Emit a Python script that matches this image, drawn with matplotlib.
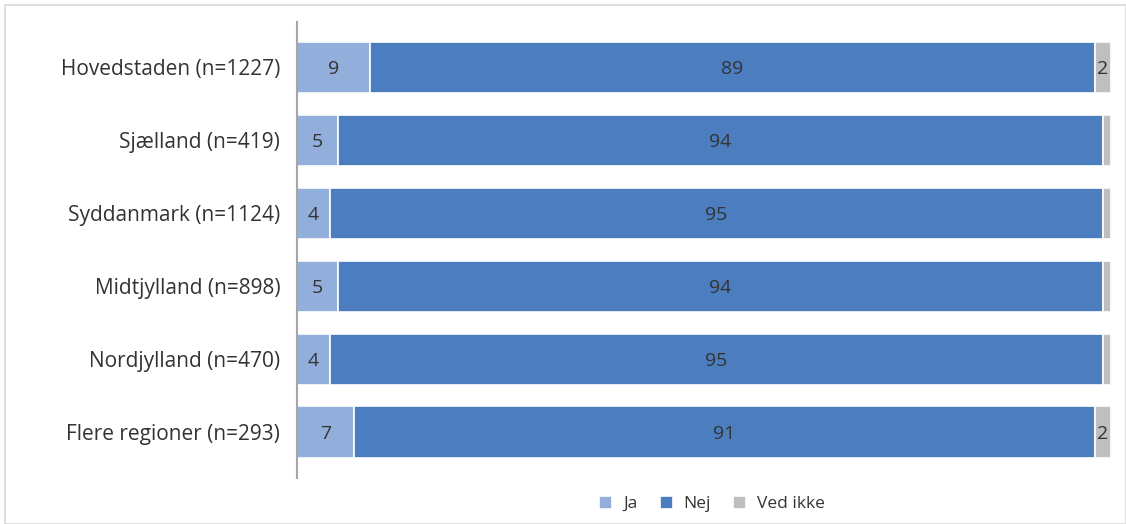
import matplotlib.pyplot as plt
from matplotlib.patches import Rectangle
import numpy as np

plt.rcParams['font.family'] = ['Open Sans', 'DejaVu Sans']

regions = ["Hovedstaden (n=1227)", "Sjælland (n=419)", "Syddanmark (n=1124)",
           "Midtjylland (n=898)", "Nordjylland (n=470)", "Flere regioner (n=293)"]
ja = [9, 5, 4, 5, 4, 7]
nej = [89, 94, 95, 94, 95, 91]
ved_ikke = [2, 1, 1, 1, 1, 2]

series = [("Ja", ja, "#91AFDA"), ("Nej", nej, "#4C7EBF"), ("Ved ikke", ved_ikke, "#BFBFBF")]

fig = plt.figure(figsize=(11.26, 5.24), dpi=100)
fig.patches.append(Rectangle((5 / 1126, 0), 1 - 5 / 1126, 1 - 5 / 524, transform=fig.transFigure,
                             fill=False, edgecolor="#D9D9D9", linewidth=1.2))
ax = fig.add_axes([297 / 1126, 46 / 524, 814 / 1126, 456 / 524])

y = np.arange(len(regions))[::-1]
left = np.zeros(len(regions))
handles = []
for name, vals, color in series:
    vals = np.array(vals, dtype=float)
    bars = ax.barh(y, vals, left=left, height=0.70, color=color, edgecolor="white", linewidth=1.2)
    handles.append(bars)
    for yi, l, v in zip(y, left, vals):
        if v >= 2:
            ax.text(l + v / 2, yi, f"{int(v)}", ha="center", va="center_baseline",
                    fontsize=14, color="#333333")
    left += vals

ax.set_xlim(0, 100)
ax.set_ylim(-0.63, 5.62)
ax.set_yticks(y)
ax.set_yticklabels(regions, fontsize=15, color="#333333", va="center_baseline")
ax.set_xticks([])
ax.tick_params(axis="y", length=0, pad=12)
for s in ["top", "right", "bottom"]:
    ax.spines[s].set_visible(False)
ax.spines["left"].set_color("#A6A6A6")
ax.spines["left"].set_linewidth(1.5)

fig.legend(handles, [s[0] for s in series], loc="center", bbox_to_anchor=(712 / 1126, 1 - 504 / 524),
           ncol=3, frameon=False, fontsize=12.5, handlelength=0.75, handleheight=0.75,
           handletextpad=0.6, columnspacing=1.3, labelcolor="#333333")

fig.savefig("out.png", dpi=100)
